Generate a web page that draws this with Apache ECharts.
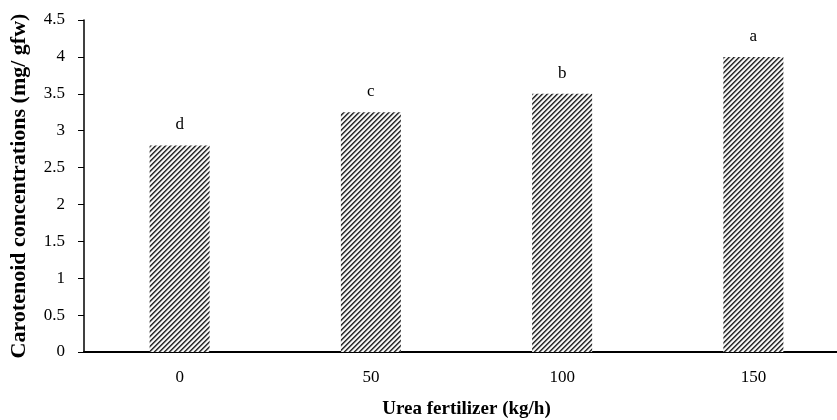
<!DOCTYPE html>
<html>
<head>
<meta charset="utf-8">
<script src="https://cdn.jsdelivr.net/npm/echarts@6/dist/echarts.min.js"></script>
<style>
  html, body { margin: 0; padding: 0; background: #fff; }
  #chart { width: 837px; height: 420px; }
</style>
</head>
<body>
<div id="chart"></div>
<script>
// urea dose categories and carotenoid values
const doses = ['0', '50', '100', '150']
const carotenoid = [2.8, 3.25, 3.5, 4.0]
const letters = ['d', 'c', 'b', 'a']  // significance groups

// diagonal hatch like the excel pattern fill
function hatch() {
  const size = 5
  const c = document.createElement('canvas')
  c.width = size
  c.height = size
  const ctx = c.getContext('2d')
  const img = ctx.createImageData(size, size)
  const shade = [40, 90, 210, 255, 210]
  for (let y = 0; y < size; y++) {
    for (let x = 0; x < size; x++) {
      const v = shade[(x + y) % size]
      const i = (y * size + x) * 4
      img.data[i] = v
      img.data[i + 1] = v
      img.data[i + 2] = v
      img.data[i + 3] = 255
    }
  }
  ctx.putImageData(img, 0, 0)
  return c
}

const font = '"Liberation Serif", "Times New Roman", serif'
const chart = echarts.init(document.getElementById('chart'))

chart.setOption({
  animation: false,
  textStyle: { fontFamily: font },
  grid: { left: 84, right: -12, top: 20, bottom: 68, outerBoundsMode: 'none' },
  xAxis: {
    type: 'category',
    data: doses,
    name: 'Urea fertilizer (kg/h)',
    nameLocation: 'middle',
    nameGap: 48,
    nameTextStyle: { fontFamily: font, fontSize: 19, fontWeight: 'bold', color: '#000' },
    axisLine: { lineStyle: { color: '#000', width: 2 } },
    axisTick: { show: false },
    axisLabel: { fontFamily: font, fontSize: 17, color: '#000', margin: 17 }
  },
  yAxis: {
    type: 'value',
    min: 0,
    max: 4.5,
    interval: 0.5,
    name: 'Carotenoid concentrations (mg/ gfw)',
    nameLocation: 'middle',
    nameGap: 54,
    nameTextStyle: { fontFamily: font, fontSize: 22, fontWeight: 'bold', color: '#000' },
    axisLine: { show: true, lineStyle: { color: '#000', width: 1.5 } },
    axisTick: { show: true, length: 6, lineStyle: { color: '#000' } },
    splitLine: { show: false },
    axisLabel: { fontFamily: font, fontSize: 17, color: '#000', margin: 19 }
  },
  series: [{
    type: 'bar',
    data: carotenoid,
    barWidth: 60,
    itemStyle: { color: { image: hatch(), repeat: 'repeat' } },
    label: {
      show: true,
      position: 'top',
      distance: 12,
      fontFamily: font,
      fontSize: 17,
      color: '#000',
      formatter: p => letters[p.dataIndex]
    }
  }]
})
</script>
</body>
</html>
